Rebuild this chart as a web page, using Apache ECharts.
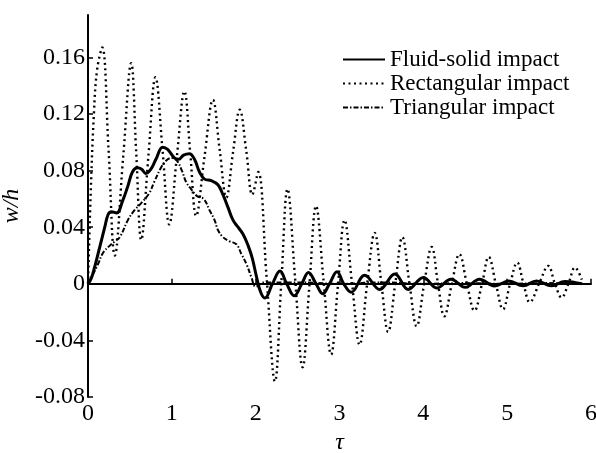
<!DOCTYPE html>
<html>
<head>
<meta charset="utf-8">
<script src="https://cdn.jsdelivr.net/npm/echarts@6/dist/echarts.min.js"></script>
<style>
  html, body { margin: 0; padding: 0; background: #fff; }
  #main { width: 596px; height: 453px; }
</style>
</head>
<body>
<div id="main"></div>
<script>
// legend names
var seriesNames = ['Fluid-solid impact', 'Rectangular impact', 'Triangular impact'];

// tick values
var xTicks = [0, 1, 2, 3, 4, 5, 6];
var yTicks = [-0.08, -0.04, 0, 0.04, 0.08, 0.12, 0.16];

// [tau, w/h]
var fluidSolid = [
  [0, 0], [0.04, 0.004], [0.08, 0.012], [0.14, 0.026], [0.2, 0.040], [0.24, 0.049],
  [0.28, 0.051], [0.34, 0.050], [0.415, 0.059], [0.475, 0.069], [0.53, 0.079], [0.59, 0.082],
  [0.64, 0.081], [0.69, 0.078], [0.75, 0.081], [0.81, 0.088], [0.89, 0.0965], [0.95, 0.095],
  [1.03, 0.089], [1.08, 0.088], [1.14, 0.091], [1.21, 0.092], [1.27, 0.088], [1.33, 0.079],
  [1.39, 0.074], [1.47, 0.073], [1.55, 0.070], [1.61, 0.063], [1.67, 0.054], [1.73, 0.045],
  [1.79, 0.040], [1.85, 0.035], [1.91, 0.027], [1.96, 0.018], [2.01, 0.005], [2.06, -0.006],
  [2.11, -0.010], [2.20, 0], [2.29, 0.009], [2.37, 0], [2.46, -0.0085], [2.55, 0],
  [2.63, 0.008], [2.72, 0], [2.80, -0.007], [2.88, 0], [2.97, 0.0085], [3.05, 0],
  [3.14, -0.006], [3.30, 0.006], [3.48, -0.004], [3.66, 0.007], [3.82, -0.004], [4.0, 0.0045],
  [4.16, -0.003], [4.33, 0.0033], [4.50, -0.0025], [4.67, 0.0033], [4.85, -0.0015], [5.02, 0.002],
  [5.19, -0.0014], [5.35, 0.002], [5.53, -0.0014], [5.69, 0.0017], [5.89, 0]
];

var rectangular = [
  [0, 0], [0.03, 0.06], [0.07, 0.12], [0.11, 0.152], [0.17, 0.167], [0.245, 0.095],
  [0.32, 0.02], [0.42, 0.09], [0.515, 0.156], [0.575, 0.093], [0.635, 0.031], [0.72, 0.09],
  [0.805, 0.146], [0.89, 0.094], [0.97, 0.042], [1.06, 0.09], [1.15, 0.136], [1.22, 0.092],
  [1.29, 0.048], [1.39, 0.09], [1.49, 0.130], [1.57, 0.095], [1.65, 0.061], [1.73, 0.093],
  [1.81, 0.123], [1.89, 0.093], [1.96, 0.063], [2.03, 0.079], [2.13, 0.005], [2.23, -0.069],
  [2.305, 0], [2.38, 0.067], [2.47, 0.004], [2.56, -0.059], [2.64, -0.002], [2.72, 0.055],
  [2.81, 0.002], [2.90, -0.050], [2.98, -0.002], [3.06, 0.045], [3.15, 0], [3.24, -0.043],
  [3.33, 0], [3.42, 0.036], [3.50, 0], [3.58, -0.034], [3.665, 0], [3.75, 0.033],
  [3.835, 0], [3.92, -0.030], [4.01, 0], [4.10, 0.026], [4.175, 0], [4.25, -0.023],
  [4.34, 0], [4.43, 0.021], [4.52, 0], [4.61, -0.019], [4.70, 0], [4.78, 0.019],
  [4.865, 0], [4.95, -0.018], [5.035, 0], [5.12, 0.015], [5.195, 0], [5.27, -0.013],
  [5.38, 0], [5.49, 0.0127], [5.57, 0], [5.65, -0.0097], [5.73, 0], [5.81, 0.0115],
  [5.89, 0.003]
];

var triangular = [
  [0, 0], [0.04, 0.0045], [0.12, 0.014], [0.18, 0.022], [0.26, 0.027], [0.32, 0.030],
  [0.38, 0.033], [0.475, 0.045], [0.555, 0.052], [0.635, 0.057], [0.73, 0.064], [0.79, 0.072],
  [0.87, 0.082], [0.93, 0.087], [1.0, 0.089], [1.06, 0.087], [1.12, 0.080], [1.17, 0.072],
  [1.23, 0.067], [1.3, 0.062], [1.38, 0.060], [1.45, 0.052], [1.51, 0.045], [1.55, 0.038],
  [1.61, 0.033], [1.69, 0.030], [1.77, 0.028], [1.83, 0.021], [1.89, 0.014], [1.95, 0.0045],
  [2.0, -0.002], [2.1, 0.001], [2.5, 0.001], [3.0, 0], [3.5, 0.001], [4.0, 0],
  [4.5, 0.0005], [5.0, 0], [5.5, 0.0005], [5.9, 0]
];

var chart = echarts.init(document.getElementById('main'));

var fontFamily = '"Liberation Serif", "DejaVu Serif", serif';
var black = '#000';

chart.setOption({
  backgroundColor: '#fff',
  animation: false,
  color: [black, black, black],
  textStyle: { fontFamily: fontFamily, color: black },
  grid: {
    left: 88,
    right: 5,
    top: 15,
    bottom: 56,
    containLabel: false,
    outerBoundsMode: 'none'
  },
  legend: {
    orient: 'vertical',
    left: 342,
    top: 48,
    padding: 0,
    itemWidth: 42,
    itemHeight: 14,
    itemGap: 1,
    data: seriesNames,
    itemStyle: { opacity: 0 },
    textStyle: {
      fontFamily: fontFamily,
      fontSize: 23,
      color: black,
      lineHeight: 23
    }
  },
  xAxis: {
    type: 'value',
    min: 0,
    max: 6,
    interval: 1,
    name: 'τ',
    nameLocation: 'middle',
    nameGap: 34,
    nameTextStyle: { fontFamily: fontFamily, fontSize: 24, fontStyle: 'italic', color: black },
    splitLine: { show: false },
    axisLine: { lineStyle: { color: black, width: 2 } },
    axisTick: { inside: true, length: 5, lineStyle: { color: black, width: 1.5 }, customValues: xTicks },
    axisLabel: { fontFamily: fontFamily, fontSize: 24, color: black, margin: 5, customValues: xTicks }
  },
  yAxis: {
    type: 'value',
    min: -0.08,
    max: 0.19,
    name: 'w/h',
    nameLocation: 'middle',
    nameRotate: 90,
    nameGap: 58,
    nameTextStyle: { fontFamily: fontFamily, fontSize: 24, fontStyle: 'italic', color: black },
    splitLine: { show: false },
    axisLine: { lineStyle: { color: black, width: 2 } },
    axisTick: { inside: true, length: 5, lineStyle: { color: black, width: 1.5 }, customValues: yTicks },
    axisLabel: { fontFamily: fontFamily, fontSize: 24, color: black, margin: 3, customValues: yTicks }
  },
  series: [
    {
      name: seriesNames[0],
      type: 'line',
      data: fluidSolid,
      symbol: 'none',
      smooth: 0.4,
      lineStyle: { color: black, width: 3 }
    },
    {
      name: seriesNames[1],
      type: 'line',
      data: rectangular,
      symbol: 'none',
      smooth: 0.4,
      lineStyle: { color: black, width: 2.4, type: [2, 3.5] }
    },
    {
      name: seriesNames[2],
      type: 'line',
      data: triangular,
      symbol: 'none',
      smooth: 0.4,
      lineStyle: { color: black, width: 2, type: [5, 2, 1.5, 2] }
    }
  ]
});
</script>
</body>
</html>
